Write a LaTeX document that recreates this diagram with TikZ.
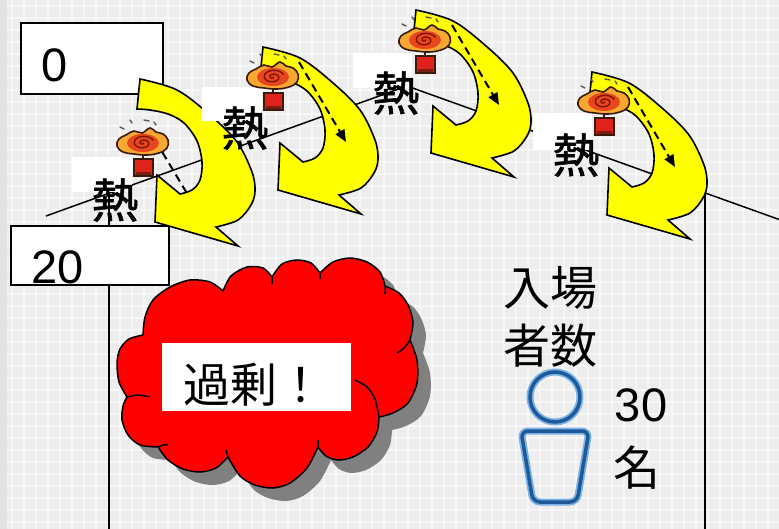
\documentclass[tikz,border=0pt]{standalone}
\usepackage{fontspec}
\newfontfamily\jpfont{Noto Sans CJK JP}
\newfontfamily\jpheavy[FakeBold=1.2]{Noto Sans CJK JP}
\newfontfamily\numfont{Liberation Sans}
\usetikzlibrary{arrows.meta}
\definecolor{bgpaper}{HTML}{EDEDED}
\definecolor{bgstrip}{HTML}{E3E3E3}
\definecolor{gridlight}{HTML}{F6F6F6}
\definecolor{arrowyellow}{HTML}{FFFF00}
\definecolor{cloudred}{HTML}{FF0000}
\definecolor{cloudshadow}{HTML}{808080}
\definecolor{flameorange}{HTML}{F8A830}
\definecolor{flamecore}{HTML}{E8461C}
\definecolor{flamedark}{HTML}{3A1A0A}
\definecolor{flameswirl}{HTML}{7A1208}
\definecolor{flamebox}{HTML}{E0221A}
\definecolor{smokegray}{HTML}{5A5A5A}
\definecolor{persondark}{HTML}{1E5A98}
\definecolor{personglow}{HTML}{7CB2E6}

\tikzset{
  jp/.style={font=\jpfont\fontsize{47}{47}\selectfont, inner sep=0pt},
  heatword/.style={font=\jpheavy\fontsize{47}{47}\selectfont, inner sep=0pt},
  num/.style={font=\numfont\fontsize{47}{47}\selectfont, inner sep=0pt},
  valbox/.style={draw=black, fill=white, line width=2pt, inner sep=0pt},
  labelbg/.style={fill=white, inner sep=0pt},
  housebeam/.style={draw=black, line width=1.5pt},
  heatflow/.style={draw=black, line width=2pt, dash pattern=on 8pt off 5pt,
    -{Triangle[length=12pt,width=10pt]}},
  % curved heat arrow, origin at the upper corner of its tail
  heatarrow/.pic={
    \filldraw[fill=arrowyellow, draw=black, line width=1.6pt, line join=miter]
      plot[smooth, tension=0.55] coordinates {(0,0) (37,11) (70,36) (97,63) (112,93) (115,112) (111,126) (98,141) (76,148)}
      -- (98,167) -- (15,143) -- (17,96)
      -- plot[smooth, tension=0.55] coordinates {(40,115) (52,111) (60,101) (62,83) (57,62) (44,44) (28,35) (10,31) (-3,30)}
      -- cycle;
  },
  % small flame with its red block, origin at the centre of the flame
  flame/.pic={
    \draw[smokegray, line width=1.4pt, line cap=round]
      (-22,-15) -- (-18,-13) (-12,-22) -- (-10,-19) (2,-22) -- (7,-21) (12,-20) -- (14,-17);
    \draw[flamedark, line width=1.2pt] (1,12) -- (1,18);
    \filldraw[fill=flamebox, draw=flamedark, line width=1.4pt] (-8,17) rectangle (11,34);
    \fill[flamedark!60!flamebox] (-6,30) rectangle (9,33);
    \filldraw[fill=flameorange, draw=flamedark, line width=1.6pt]
      plot[smooth cycle, tension=0.7] coordinates {(-25,4) (-23,-3) (-16,-7) (-8,-11) (0,-9) (8,-14) (14,-10) (21,-8) (26,-2) (25,6) (17,11) (5,13) (-8,12) (-19,10)};
    \fill[flamecore] (1,1) ellipse [x radius=16, y radius=9];
    \draw[flameswirl, line width=1.3pt]
      plot[domain=0:700, samples=60, smooth] ({1+0.016*\x*cos(\x)}, {1+0.0105*\x*sin(\x)});
  },
  % outline of the cloud
  cloudpic/.pic={
    \path[pic actions]
      plot[smooth] coordinates {(143,335) (145,317) (153,300) (170,287) (190,280) (210,282) (223,291)}
      -- plot[smooth] coordinates {(223,291) (231,276) (247,267) (263,268) (272,277)}
      -- plot[smooth] coordinates {(272,277) (282,264) (297,260) (311,263) (320,273)}
      -- plot[smooth] coordinates {(320,273) (333,262) (350,258) (367,262) (380,272) (385,286)}
      -- plot[smooth] coordinates {(385,286) (399,293) (408,305) (413,322) (410,340)}
      -- plot[smooth] coordinates {(410,340) (417,360) (417,383) (408,403) (393,413) (379,417)}
      -- plot[smooth] coordinates {(379,417) (377,432) (368,447) (353,457) (338,460) (326,456) (318,447)}
      -- plot[smooth] coordinates {(318,447) (307,468) (290,483) (273,488) (255,485) (240,476) (228,457)}
      -- plot[smooth] coordinates {(228,457) (216,468) (200,472) (183,469) (168,460) (158,447)}
      -- plot[smooth] coordinates {(158,447) (140,445) (128,435) (122,420) (123,406) (127,397)}
      -- plot[smooth] coordinates {(127,397) (119,382) (117,363) (120,349) (129,339) (143,335)}
      -- cycle;
  }
}

\begin{document}
\begin{tikzpicture}[x=1pt, y=-1pt]
\useasboundingbox (0,0) rectangle (779,529);

% paper with a faint grid
\fill[bgpaper] (0,0) rectangle (779,529);
\foreach \g in {12,24,...,779} \draw[gridlight, line width=1.4pt] (\g,0) -- (\g,529);
\foreach \g in {6,18,...,529} \draw[gridlight, line width=1.4pt] (7,\g) -- (779,\g);
\fill[bgstrip] (0,0) rectangle (7,529);

% roof and walls of the hall
\coordinate (eaveL) at (46,216);
\coordinate (peak) at (407,86);
\coordinate (eaveR) at (800,227);
\coordinate (wallLtop) at (109,193.3);
\coordinate (wallLbot) at (109,535);
\coordinate (wallRtop) at (705,192.9);
\coordinate (wallRbot) at (705,535);
\draw[housebeam] (eaveL) -- (peak) -- (eaveR);
\draw[housebeam] (wallLtop) -- (wallLbot);
\draw[housebeam] (wallRtop) -- (wallRbot);

% value boxes
\node[valbox, minimum width=142pt, minimum height=71pt] (boxzero) at (92,58.5) {};
\node[num] (zero) at (55,65) {0};
\node[valbox, minimum width=158pt, minimum height=59pt] (boxtwenty) at (90,255.5) {};
\node[num] (twenty) at (57.5,267) {20};

% overload cloud
\pic[fill=cloudshadow] at (13,13) {cloudpic};
\pic[fill=cloudred, draw=black, line width=1.5pt, line join=round] at (0,0) {cloudpic};
\draw[black, line width=1.5pt]
  (272,277) -- (272,284)
  (320,273) -- (320,279)
  (385,286) -- (385,294)
  (228,457) -- (226,450)
  (318,447) -- (318,440);
\draw[black, line width=1.5pt] plot[smooth] coordinates {(410,340) (404,348) (397,353)};
\draw[black, line width=1.5pt] plot[smooth] coordinates {(355,380) (367,387) (375,399) (379,417)};
\draw[black, line width=1.5pt] plot[smooth] coordinates {(158,447) (163,445) (168,445)};
\draw[black, line width=1.5pt] plot[smooth] coordinates {(127,397) (138,395) (150,397)};
\node[labelbg, minimum width=189pt, minimum height=68pt] (excessbg) at (256.5,377) {};
\node[jp] (excess) at (254,385) {過剰！};

% visitors
\node[jp] (visitA) at (550,288) {入場};
\node[jp] (visitB) at (550,346) {者数};
\draw[personglow, line width=7pt] (555,397) circle (25);
\draw[persondark, line width=3.5pt] (555,397) circle (25);
\draw[personglow, line width=7pt, rounded corners=7pt] (533,502) -- (521,431) -- (589,431) -- (577,502) -- cycle;
\draw[persondark, line width=3.5pt, rounded corners=7pt] (533,502) -- (521,431) -- (589,431) -- (577,502) -- cycle;
\node[num] (count) at (641,405) {30};
\node[jp] (countunit) at (637,468) {名};

% heat flow below the first arrow
\coordinate (flowAs) at (149,130);
\coordinate (flowAe) at (200,215);
\draw[heatflow] (flowAs) -- (flowAe);

% curved heat arrows
\pic at (140,79) {heatarrow};
\pic at (263,47) {heatarrow};
\pic at (416,10) {heatarrow};
\pic at (592,72) {heatarrow};

\coordinate (flowBs) at (299,62);
\coordinate (flowBe) at (346,142);
\coordinate (flowCs) at (452,25);
\coordinate (flowCe) at (499,105);
\coordinate (flowDs) at (628,87);
\coordinate (flowDe) at (675,167);
\draw[heatflow] (flowBs) -- (flowBe);
\draw[heatflow] (flowCs) -- (flowCe);
\draw[heatflow] (flowDs) -- (flowDe);

% heat labels
\node[labelbg, minimum width=60pt, minimum height=35pt] (heatbgA) at (102,174.5) {};
\node[labelbg, minimum width=60pt, minimum height=34pt] (heatbgB) at (232,104) {};
\node[labelbg, minimum width=59pt, minimum height=35pt] (heatbgC) at (382.5,70.5) {};
\node[labelbg, minimum width=59pt, minimum height=37pt] (heatbgD) at (562.5,131.5) {};
\node[heatword] (heatA) at (115,200) {熱};
\node[heatword] (heatB) at (245,128) {熱};
\node[heatword] (heatC) at (396,93) {熱};
\node[heatword] (heatD) at (576,155) {熱};

% flames
\pic at (142,142) {flame};
\pic at (272,76) {flame};
\pic at (424,39) {flame};
\pic at (603,101) {flame};
\end{tikzpicture}
\end{document}
